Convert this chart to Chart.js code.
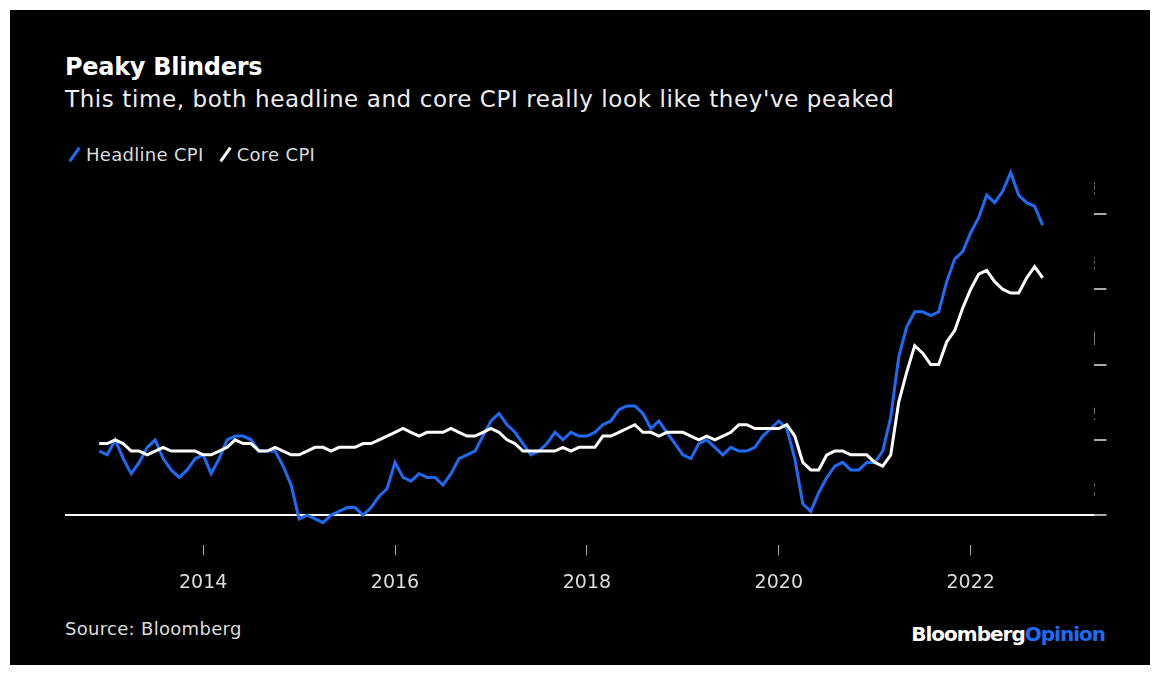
<!DOCTYPE html>
<html>
<head>
<meta charset="utf-8">
<script src="https://cdn.jsdelivr.net/npm/chart.js@4"></script>
<style>
  body { margin: 0; background: #fff; font-family: "DejaVu Sans", sans-serif; }
  #frame { position: absolute; left: 10px; top: 10px; width: 1140px; height: 655px; background: #000; color: #fff; }
  #title { position: absolute; left: 55px; top: 43px; font-size: 24px; font-weight: bold; letter-spacing: -0.3px; }
  #subtitle { position: absolute; left: 55px; top: 76px; font-size: 23px; color: #eee; letter-spacing: 0.6px; }
  #legend { position: absolute; left: 55px; top: 134px; font-size: 18px; color: #ddd; letter-spacing: 0.3px; }
  #legend span.k { display: inline-block; width: 3px; height: 17px; transform: rotate(35deg); margin: 0 10px -2px 8px; }
  #source { position: absolute; left: 55px; top: 608px; font-size: 18px; color: #ddd; letter-spacing: 0.3px; }
  #logo { position: absolute; right: 45px; top: 612px; font-size: 20px; font-weight: bold; letter-spacing: -1px; }
  #wrap { position: absolute; left: 55px; top: 155px; width: 1080px; height: 445px; }
</style>
</head>
<body>
<div id="frame">
  <div id="title">Peaky Blinders</div>
  <div id="subtitle">This time, both headline and core CPI really look like they've peaked</div>
  <div id="legend"><span class="k" style="background:#1e6cf5"></span>Headline CPI <span class="k" style="background:#fff;margin-left:14px"></span>Core CPI</div>
  <div id="wrap"><canvas id="cpi-chart"></canvas></div>
  <div id="source">Source: Bloomberg</div>
  <div id="logo">Bloomberg<span style="color:#1e6cf5">Opinion</span></div>
</div>
<script>
// monthly YoY %, Dec 2012 .. Oct 2022
const startYear = 2012 + 11 / 12;
const headline = [1.7,
  1.6,2.0,1.5,1.1,1.4,1.8,2.0,1.5,1.2,1.0,1.2,1.5,
  1.6,1.1,1.5,2.0,2.1,2.1,2.0,1.7,1.7,1.7,1.3,0.8,
  -0.1,0.0,-0.1,-0.2,0.0,0.1,0.2,0.2,0.0,0.2,0.5,0.7,
  1.4,1.0,0.9,1.1,1.0,1.0,0.8,1.1,1.5,1.6,1.7,2.1,
  2.5,2.7,2.4,2.2,1.9,1.6,1.7,1.9,2.2,2.0,2.2,2.1,
  2.1,2.2,2.4,2.5,2.8,2.9,2.9,2.7,2.3,2.5,2.2,1.9,
  1.6,1.5,1.9,2.0,1.8,1.6,1.8,1.7,1.7,1.8,2.1,2.3,
  2.5,2.3,1.5,0.3,0.1,0.6,1.0,1.3,1.4,1.2,1.2,1.4,
  1.4,1.7,2.6,4.2,5.0,5.4,5.4,5.3,5.4,6.2,6.8,7.0,
  7.5,7.9,8.5,8.3,8.6,9.1,8.5,8.3,8.2,7.7];
const core = [1.9,
  1.9,2.0,1.9,1.7,1.7,1.6,1.7,1.8,1.7,1.7,1.7,1.7,
  1.6,1.6,1.7,1.8,2.0,1.9,1.9,1.7,1.7,1.8,1.7,1.6,
  1.6,1.7,1.8,1.8,1.7,1.8,1.8,1.8,1.9,1.9,2.0,2.1,
  2.2,2.3,2.2,2.1,2.2,2.2,2.2,2.3,2.2,2.1,2.1,2.2,
  2.3,2.2,2.0,1.9,1.7,1.7,1.7,1.7,1.7,1.8,1.7,1.8,
  1.8,1.8,2.1,2.1,2.2,2.3,2.4,2.2,2.2,2.1,2.2,2.2,
  2.2,2.1,2.0,2.1,2.0,2.1,2.2,2.4,2.4,2.3,2.3,2.3,
  2.3,2.4,2.1,1.4,1.2,1.2,1.6,1.7,1.7,1.6,1.6,1.6,
  1.4,1.3,1.6,3.0,3.8,4.5,4.3,4.0,4.0,4.6,4.9,5.5,
  6.0,6.4,6.5,6.2,6.0,5.9,5.9,6.3,6.6,6.3];
const yearTicks = [2014, 2016, 2018, 2020, 2022];
const yTicks = [0, 2, 4, 6, 8];

const toPoints = arr => arr.map((v, i) => ({ x: startYear + i / 12, y: v }));

const ctx = document.getElementById('cpi-chart').getContext('2d');
new Chart(ctx, {
  type: 'line',
  data: {
    datasets: [
      { label: 'Core CPI', data: toPoints(core), borderColor: '#ffffff', borderWidth: 3, pointRadius: 0, tension: 0 },
      { label: 'Headline CPI', data: toPoints(headline), borderColor: '#1e6cf5', borderWidth: 3, pointRadius: 0, tension: 0 }
    ]
  },
  options: {
    responsive: true,
    maintainAspectRatio: false,
    animation: false,
    layout: { padding: { left: 0, right: 50 } },
    plugins: { legend: { display: false }, tooltip: { enabled: false } },
    scales: {
      x: {
        type: 'linear',
        min: 2012.56,
        max: 2023.29,
        afterBuildTicks: s => { s.ticks = yearTicks.map(v => ({ value: v })); },
        grid: { drawOnChartArea: false, color: '#aaa', tickLength: 10, offset: false },
        border: { display: false },
        ticks: { color: '#ddd', font: { size: 19, family: 'DejaVu Sans' }, padding: 16, callback: v => String(v) }
      },
      y: {
        position: 'right',
        min: -0.8,
        max: 9.3,
        afterBuildTicks: s => { s.ticks = yTicks.map(v => ({ value: v })); },
        grid: {
          drawOnChartArea: true,
          tickLength: 12,
          color: ctx => ctx.tick && ctx.tick.value === 0 ? '#ffffff' : 'rgba(0,0,0,0)',
          tickColor: '#aaa',
          lineWidth: 2
        },
        border: { display: false },
        ticks: {
          color: '#ddd', font: { size: 18, family: 'DejaVu Sans' }, padding: -20,
          labelOffset: -24,
          callback: v => v === 8 ? '8%' : String(v)
        }
      }
    }
  }
});
</script>
</body>
</html>
